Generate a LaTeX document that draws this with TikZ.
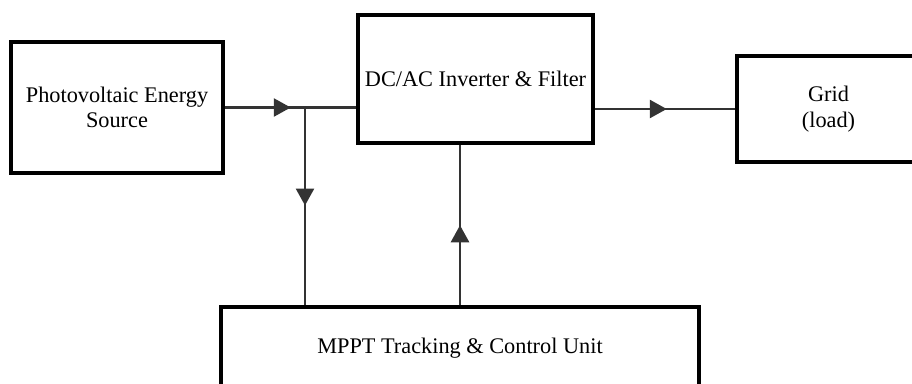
\documentclass[tikz,border=0pt]{standalone}
\usepackage{fontspec}
\setmainfont{Liberation Serif}
\usetikzlibrary{arrows.meta,decorations.markings}
\definecolor{wire}{HTML}{333333}
\tikzset{
  blockbox/.style={draw=black, line width=3.5pt, fill=white, inner sep=0pt, align=center,
    font=\fontsize{22.3}{25.5}\selectfont},
  wireline/.style={draw=wire, line width=2.6pt},
  midarrow/.style={postaction={decorate}, decoration={markings,
    mark=at position #1 with {\arrow{Triangle[length=17pt,width=18pt]}}}}
}
\begin{document}
\begin{tikzpicture}[x=1pt,y=-1pt]
\clip (0,0) rectangle (912,383);
\fill[white] (0,0) rectangle (912,383);
\node[blockbox, minimum width=212pt, minimum height=131pt] (pv) at (117,107.5) {Photovoltaic Energy\\Source};
\node[blockbox, minimum width=235pt, minimum height=128pt] (inv) at (475.5,79) {DC/AC Inverter \& Filter};
\node[blockbox, minimum width=183pt, minimum height=106pt] (grid) at (828.5,109) {Grid\\(load)};
\node[blockbox, minimum width=478pt, minimum height=82pt] (mppt) at (460,348) {MPPT Tracking \& Control Unit};
\coordinate (j) at (305,107.5);
\draw[wireline, midarrow=66pt] (pv.east) -- (pv.east -| inv.west);
\draw[wireline, midarrow=98pt] (j) -- (j |- mppt.north);
\draw[wireline, midarrow=80pt] (mppt.north) -- (mppt.north |- inv.south);
\draw[wireline, midarrow=72pt] (grid.west -| inv.east) -- (grid.west);
\end{tikzpicture}
\end{document}
